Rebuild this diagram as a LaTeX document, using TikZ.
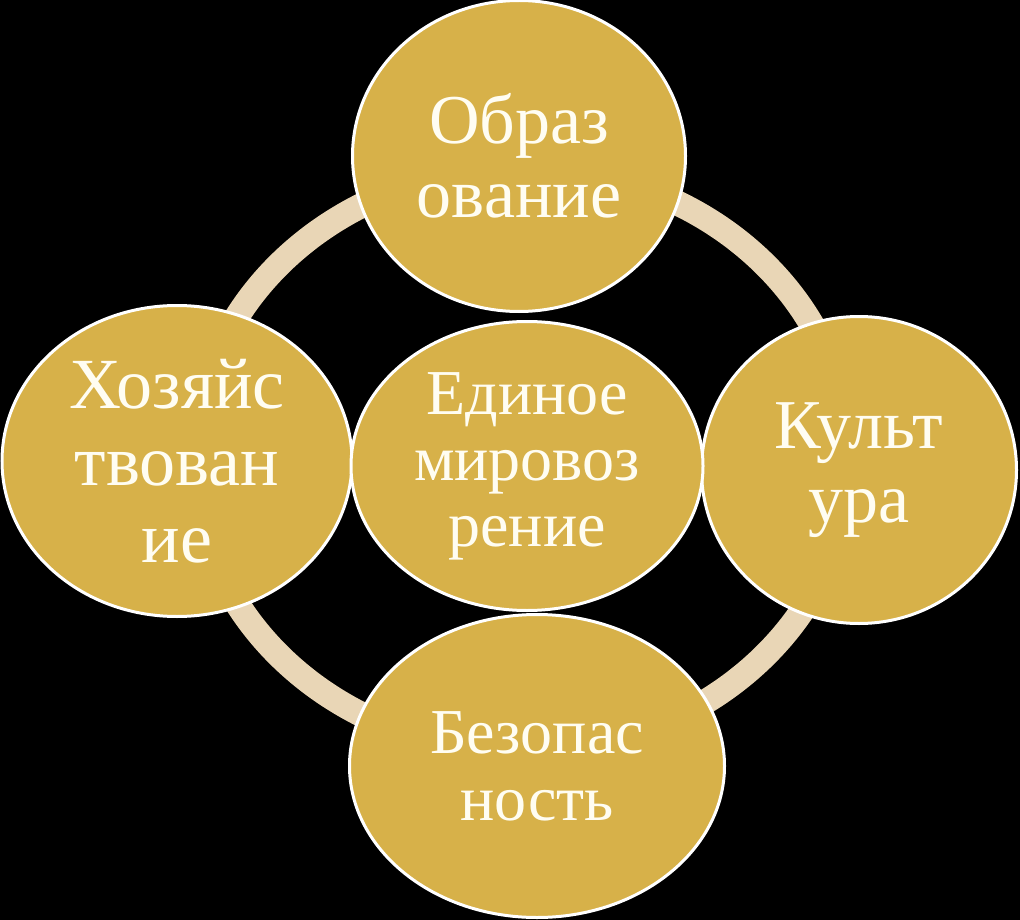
\documentclass[tikz,border=0pt]{standalone}
\usepackage{fontspec}
\setmainfont{Liberation Serif}
\usetikzlibrary{shapes.geometric}
\definecolor{gold}{RGB}{215,177,73}
\definecolor{ringc}{RGB}{233,214,182}
\definecolor{txt}{RGB}{255,253,242}
\begin{document}
\begin{tikzpicture}[x=1pt,y=-1pt,
  bub/.style={ellipse, draw=white, line width=3pt, fill=gold, text=txt, inner sep=0pt, align=center},
  ringline/.style={draw=ringc, line width=25pt}]
\fill[black] (0,0) rectangle (1020,920);
\useasboundingbox (0,0) rectangle (1020,920);
\coordinate (rc) at (522,460);
\draw[ringline] (rc) ellipse [x radius=327pt, y radius=292pt];
\node[bub, minimum width=333pt, minimum height=311pt, font=\fontsize{70}{74}\selectfont] (top) at (519,156) {Образ\\ование};
\node[bub, minimum width=350pt, minimum height=311pt, font=\fontsize{72}{77}\selectfont] (left) at (177,461) {Хозяйс\\твован\\ие};
\node[bub, minimum width=315pt, minimum height=307pt, font=\fontsize{70}{74}\selectfont] (right) at (859,470) {Культ\\ура};
\node[bub, minimum width=375pt, minimum height=303pt, font=\fontsize{64}{67}\selectfont] (bottom) at (537,766) {Безопас\\ность};
\node[bub, minimum width=352pt, minimum height=289pt, font=\fontsize{64}{66}\selectfont] (center) at (527,466) {Единое\\мировоз\\рение};
\end{tikzpicture}
\end{document}
